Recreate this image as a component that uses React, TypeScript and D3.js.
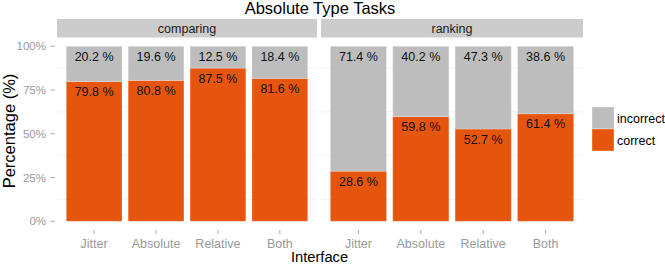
import React from 'react'
import * as d3 from 'd3'

// values
const interfaces = ['Jitter', 'Absolute', 'Relative', 'Both']
const tasks = ['comparing', 'ranking']
const correctComparing = [79.8, 80.8, 87.5, 81.6]
const incorrectComparing = [20.2, 19.6, 12.5, 18.4]
const correctRanking = [28.6, 59.8, 52.7, 61.4]
const incorrectRanking = [71.4, 40.2, 47.3, 38.6]
const outcomes = ['correct', 'incorrect']
const yTicks = [0, 25, 50, 75, 100]
const yMinor = [12.5, 37.5, 62.5, 87.5]

const width = 665
const height = 264
const font = 'Arial, "Liberation Sans", Helvetica, sans-serif'
const colors: Record<string, string> = { correct: '#e6550d', incorrect: '#bdbdbd' }

const panels = [
  { task: tasks[0], x0: 57, x1: 317, correct: correctComparing, incorrect: incorrectComparing },
  { task: tasks[1], x0: 321, x1: 583, correct: correctRanking, incorrect: incorrectRanking },
]

const stripTop = 19
const panelTop = 37.5
const panelBottom = 230

export default function App() {
  // ggplot style expansion of 5% on both ends
  const y = d3.scaleLinear().domain([-5, 105]).range([panelBottom, panelTop])

  return (
    <svg width={width} height={height} style={{ position: 'absolute', left: 0, top: 0, background: '#fff' }} fontFamily={font}>
      <text x={320} y={14} textAnchor="middle" fontSize={16.5} fill="#000">Absolute Type Tasks</text>

      {panels.map(p => {
        const x = d3.scaleBand().domain(interfaces).range([p.x0, p.x1]).paddingInner(0.1).paddingOuter(0.15)
        const rows = interfaces.map((k, i) => ({ key: k, correct: p.correct[i], incorrect: p.incorrect[i] }))
        const series = d3.stack<any>().keys(outcomes).offset(d3.stackOffsetExpand)(rows)
        return (
          <g key={p.task}>
            <rect x={p.x0} y={stripTop} width={p.x1 - p.x0} height={panelTop - stripTop} fill="#cccccc" />
            <text x={(p.x0 + p.x1) / 2} y={(stripTop + panelTop) / 2 + 4.5} textAnchor="middle" fontSize={12.5} fill="#1a1a1a">{p.task}</text>
            {yMinor.map(t => (
              <line key={t} x1={p.x0} x2={p.x1} y1={y(t)} y2={y(t)} stroke="#f2f2f2" strokeWidth={1} />
            ))}
            {series.map(s => s.map((d, i) => {
              const top = y(d[1] * 100)
              const bottom = y(d[0] * 100)
              const val = s.key === 'correct' ? p.correct[i] : p.incorrect[i]
              return (
                <g key={s.key + i}>
                  <rect x={x(interfaces[i])} y={top} width={x.bandwidth()} height={bottom - top}
                    fill={colors[s.key]} stroke="#ffffff" strokeOpacity={0.25} strokeWidth={0.8} />
                  <text x={(x(interfaces[i]) as number) + x.bandwidth() / 2} y={top + 14.5} textAnchor="middle"
                    fontSize={12.5} fill="#111">{`${val.toFixed(1)} %`}</text>
                </g>
              )
            }))}
            {interfaces.map(k => {
              const cx = (x(k) as number) + x.bandwidth() / 2
              return (
                <g key={k}>
                  <line x1={cx} x2={cx} y1={panelBottom} y2={panelBottom + 4} stroke="#999" strokeWidth={0.8} />
                  <text x={cx} y={248} textAnchor="middle" fontSize={12.5} fill="#999">{k}</text>
                </g>
              )
            })}
          </g>
        )
      })}

      {yTicks.map(t => (
        <g key={t}>
          <line x1={50.5} x2={55} y1={y(t)} y2={y(t)} stroke="#999" strokeWidth={0.8} />
          <text x={46} y={y(t) + 4} textAnchor="end" fontSize={11.5} fill="#999">{`${t}%`}</text>
        </g>
      ))}

      <text x={319.5} y={262} textAnchor="middle" fontSize={14.7} fill="#000">Interface</text>
      <text transform={`translate(15,131) rotate(-90)`} textAnchor="middle" fontSize={16.5} fill="#000">Percentage (%)</text>

      {['incorrect', 'correct'].map((k, i) => (
        <g key={k} transform={`translate(592,${107 + i * 22})`}>
          <rect width={22} height={22} fill={colors[k]} stroke="#fff" strokeOpacity={0.4} strokeWidth={0.8} />
          <text x={25} y={15.5} fontSize={12.5} fill="#000">{k}</text>
        </g>
      ))}
    </svg>
  )
}
